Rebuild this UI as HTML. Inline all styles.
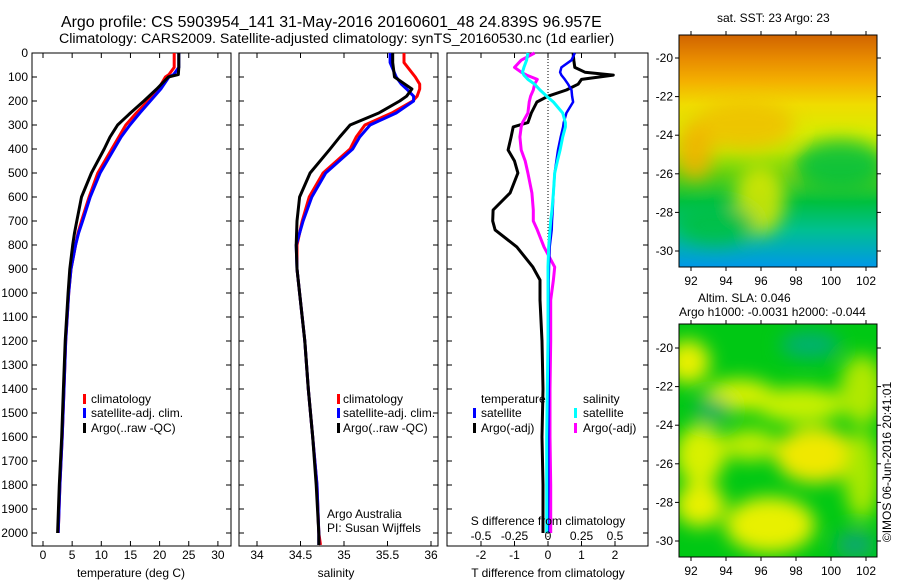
<!DOCTYPE html>
<html><head><meta charset="utf-8"><style>
html,body{margin:0;padding:0;background:#fff}
svg{display:block;font-family:"Liberation Sans",sans-serif}
text{fill:#000}
</style></head><body>
<svg id="chart" width="900" height="580" viewBox="0 0 900 580">
<defs>
<linearGradient id="sstGrad" x1="0" y1="0" x2="0" y2="1">
<stop offset="0" stop-color="#d06400"/><stop offset="0.1" stop-color="#e88a00"/><stop offset="0.2" stop-color="#f4b000"/><stop offset="0.3" stop-color="#f0dc00"/><stop offset="0.42" stop-color="#d8ec00"/><stop offset="0.5" stop-color="#b8e800"/><stop offset="0.6" stop-color="#60d010"/><stop offset="0.72" stop-color="#00c040"/><stop offset="0.84" stop-color="#00c090"/><stop offset="1" stop-color="#0098e8"/>
</linearGradient>
<filter id="blur" x="-20%" y="-20%" width="140%" height="140%"><feGaussianBlur stdDeviation="9"/></filter>
<clipPath id="m1clip"><rect x="679" y="35" width="198" height="232"/></clipPath>
<clipPath id="m2clip"><rect x="679" y="324" width="198" height="233"/></clipPath>
</defs>
<text x="61" y="27" font-size="15.9">Argo profile: CS 5903954_141 31-May-2016 20160601_48 24.839S 96.957E</text>
<text x="59" y="43" font-size="14.2">Climatology: CARS2009. Satellite-adjusted climatology: synTS_20160530.nc (1d earlier)</text>
<g id="p1"></g>
<g id="p2"></g>
<g id="p3"></g>
<g id="m1">
<g clip-path="url(#m1clip)">
<rect x="679" y="35" width="198" height="232" fill="url(#sstGrad)"/>
<g filter="url(#blur)" opacity="0.85">
<ellipse cx="745" cy="125" rx="50" ry="25" fill="#f0c000"/>
<ellipse cx="760" cy="200" rx="25" ry="35" fill="#e0e800"/>
<ellipse cx="840" cy="165" rx="45" ry="25" fill="#00c040"/>
<ellipse cx="695" cy="150" rx="18" ry="30" fill="#f4b000"/>
<ellipse cx="715" cy="225" rx="40" ry="20" fill="#00c040"/>
</g>
</g>
<rect x="679" y="35" width="198" height="232" fill="none" stroke="#000"/>
<text x="717" y="22" font-size="12">sat. SST: 23 Argo: 23</text>
</g>
<g id="m2">
<g clip-path="url(#m2clip)">
<rect x="679" y="324" width="198" height="233" fill="#00c814"/>
<g filter="url(#blur)">
<ellipse cx="688" cy="362" rx="22" ry="22" fill="#e8f000"/>
<ellipse cx="740" cy="395" rx="35" ry="16" fill="#d8f000"/>
<ellipse cx="800" cy="405" rx="45" ry="18" fill="#c8f000"/>
<ellipse cx="862" cy="390" rx="22" ry="35" fill="#b0e800"/>
<ellipse cx="700" cy="455" rx="25" ry="30" fill="#d8f000"/>
<ellipse cx="750" cy="445" rx="28" ry="16" fill="#c0ec00"/>
<ellipse cx="815" cy="455" rx="40" ry="28" fill="#f0e800"/>
<ellipse cx="700" cy="505" rx="25" ry="22" fill="#e8f000"/>
<ellipse cx="770" cy="525" rx="45" ry="28" fill="#e8f000"/>
<ellipse cx="862" cy="475" rx="18" ry="45" fill="#a8e800"/>
<ellipse cx="810" cy="345" rx="30" ry="14" fill="#00b070"/>
<ellipse cx="712" cy="410" rx="18" ry="12" fill="#10b060"/>
<ellipse cx="855" cy="545" rx="20" ry="14" fill="#10a870"/>
</g>
</g>
<rect x="679" y="324" width="198" height="233" fill="none" stroke="#000"/>
<text x="698" y="302" font-size="12">Altim. SLA: 0.046</text>
<text x="679" y="316" font-size="12">Argo h1000: -0.0031 h2000: -0.044</text>
</g>
<text transform="translate(891,462) rotate(-90)" font-size="12" text-anchor="middle">©IMOS 06-Jun-2016 20:41:01</text>
</svg>
<script>
const tDepth = [0,60,90,100,150,200,250,300,350,400,500,600,700,750,800,900,1000,1200,1400,1600,1800,2000];
const tempArgo = [23.3,23.3,23.2,21.5,19.5,17.3,15,12.8,11.5,10.5,8.3,6.6,5.8,5.4,5.1,4.6,4.3,3.8,3.5,3.2,2.8,2.5];
const tempClim = [22.5,22.5,21.6,21,19.8,18,16,14.2,13,11.8,9.4,7.9,6.6,6.0,5.6,4.8,4.4,3.9,3.6,3.3,2.9,2.6];
const tempSat  = [23.3,23.3,22.4,21.6,20.2,18.4,16.6,14.9,13.4,12.2,9.8,8.1,6.8,6.1,5.6,4.8,4.4,3.9,3.6,3.3,2.9,2.6];
const tempTicks = [0,5,10,15,20,25,30];
const sDepth = [0,40,100,130,150,180,200,250,300,350,400,500,600,700,800,900,1000,1100,1200,1400,1600,1800,2000,2050];
const salArgo = [35.56,35.56,35.58,35.7,35.78,35.72,35.64,35.4,35.07,34.95,34.84,34.61,34.49,34.46,34.45,34.46,34.49,34.52,34.55,34.59,34.64,34.68,34.71,34.71];
const salClim = [35.69,35.69,35.82,35.87,35.87,35.84,35.79,35.55,35.24,35.14,35.07,34.76,34.6,34.52,34.46,34.46,34.49,34.52,34.55,34.59,34.64,34.69,34.71,34.73];
const salSat  = [35.53,35.53,35.6,35.66,35.72,35.8,35.8,35.6,35.3,35.18,35.1,34.79,34.63,34.53,34.45,34.46,34.49,34.52,34.55,34.59,34.64,34.69,34.71,34.71];
const salTicks = [34,34.5,35,35.5,36];
const dDepth = [0,30,60,80,92,110,130,154,180,204,250,290,308,350,404,450,500,583,654,700,737,808,892,946,1029,1200,1400,1600,1800,2000];
const tDiffArgo = [0.75,0.77,0.8,1.1,1.95,1.0,0.9,0.55,0.0,-0.33,-0.5,-0.6,-1.04,-1.1,-1.19,-1.0,-0.9,-1.13,-1.64,-1.65,-1.58,-0.93,-0.45,-0.24,-0.24,-0.18,-0.15,-0.18,-0.15,-0.15];
const tDiffSat  = [0.8,0.7,0.4,0.36,0.4,0.5,0.6,0.7,0.72,0.75,0.55,0.47,0.45,0.38,0.3,0.25,0.2,0.16,0.14,0.12,0.11,0.05,0.03,0.02,0.02,0.02,0.02,0.01,0.01,0.0];
const sDiffSat  = [-0.15,-0.16,-0.18,-0.19,-0.18,-0.15,-0.1,-0.06,-0.01,0.04,0.11,0.13,0.13,0.11,0.09,0.07,0.05,0.04,0.03,0.02,0.015,0.005,0,0,0,0,-0.005,-0.01,-0.01,-0.01];
const sDiffArgo = [-0.1,-0.2,-0.25,-0.2,-0.16,-0.08,-0.1,-0.11,-0.13,-0.14,-0.15,-0.19,-0.2,-0.21,-0.2,-0.17,-0.15,-0.12,-0.11,-0.11,-0.08,-0.03,0.05,0.04,0.02,0.02,0.015,0.015,0.02,0.02];
const depthTicks = [0,100,200,300,400,500,600,700,800,900,1000,1100,1200,1300,1400,1500,1600,1700,1800,1900,2000];
const tDiffTicks = [-2,-1,0,1,2];
const sDiffTicks = [-0.5,-0.25,0,0.25,0.5];
const lonTicks = [92,94,96,98,100,102];
const latTicks = [-20,-22,-24,-26,-28,-30];

const NS='http://www.w3.org/2000/svg';
function mk(parent,tag,attrs){const e=document.createElementNS(NS,tag);for(const k in attrs)e.setAttribute(k,attrs[k]);parent.appendChild(e);return e;}
const yD = d => 53 + d*0.24;
const PB = 546;
function frame(g,x0,x1){
  const r=mk(g,'rect',{x:x0,y:53,width:x1-x0,height:PB-53,fill:'none',stroke:'#000','stroke-width':1});
  
  
}
function line(g,depths,vals,sx,color,w,name){
  const pts=depths.map((d,i)=>sx(vals[i]).toFixed(1)+','+yD(d).toFixed(1)).join(' ');
  const p=mk(g,'polyline',{points:pts,fill:'none',stroke:color,'stroke-width':w,'stroke-linejoin':'round'});
  
  
}
function xTicks(g,ticks,sx,labY){
  ticks.forEach(t=>{
    const x=sx(t);
    mk(g,'line',{x1:x,x2:x,y1:PB,y2:PB-5,stroke:'#000'});
    mk(g,'line',{x1:x,x2:x,y1:53,y2:58,stroke:'#000'});
    const tx=mk(g,'text',{x:x,y:labY,'font-size':12,'text-anchor':'middle'});
    tx.textContent=String(t);
    
    
  });
}
function yTicks(g,x0,x1,labels){
  depthTicks.forEach(d=>{
    const y=yD(d);
    mk(g,'line',{x1:x0,x2:x0+5,y1:y,y2:y,stroke:'#000'});
    mk(g,'line',{x1:x1,x2:x1-5,y1:y,y2:y,stroke:'#000'});
    if(labels){
      const t=mk(g,'text',{x:x0-4,y:y+4,'font-size':12,'text-anchor':'end'});
      t.textContent=d;
      
      
    }
  });
}
function txt(g,x,y,s,name,anchor){
  const t=mk(g,'text',{x:x,y:y,'font-size':12,'text-anchor':anchor||'start'});
  t.textContent=s;
  
  
}
function legMark(g,x,y,color,name){
  const r=mk(g,'rect',{x:x,y:y-9,width:3,height:10,fill:color});
  
  
}
const p1=document.getElementById('p1');
const sxT = v => 43 + v*5.83;
frame(p1,32,231); yTicks(p1,32,231,true); xTicks(p1,tempTicks,sxT,559);
line(p1,tDepth,tempClim,sxT,'#ff0000',3,'temp-climatology-line');
line(p1,tDepth,tempSat,sxT,'#0000ff',3,'temp-satellite-line');
line(p1,tDepth,tempArgo,sxT,'#000000',3,'temp-argo-line');
txt(p1,131,577,'temperature (deg C)','x-axis-title','middle');
legMark(p1,83,403,'#ff0000','legend-climatology'); txt(p1,91,403,'climatology','legend-text');
legMark(p1,83,417,'#0000ff','legend-satellite'); txt(p1,91,417,'satellite-adj. clim.','legend-text');
legMark(p1,83,432,'#000000','legend-argo'); txt(p1,91,432,'Argo(..raw -QC)','legend-text');
const p2=document.getElementById('p2');
const sxS = v => 257 + (v-34)*87;
frame(p2,239,438); yTicks(p2,239,438,false); xTicks(p2,salTicks,sxS,559);
line(p2,sDepth,salClim,sxS,'#ff0000',3,'sal-climatology-line');
line(p2,sDepth,salSat,sxS,'#0000ff',3,'sal-satellite-line');
line(p2,sDepth,salArgo,sxS,'#000000',3,'sal-argo-line');
txt(p2,336,577,'salinity','x-axis-title','middle');
legMark(p2,337,403,'#ff0000','legend-climatology'); txt(p2,343,403,'climatology','legend-text');
legMark(p2,337,417,'#0000ff','legend-satellite'); txt(p2,343,417,'satellite-adj. clim.','legend-text');
legMark(p2,337,432,'#000000','legend-argo'); txt(p2,343,432,'Argo(..raw -QC)','legend-text');
txt(p2,327,518,'Argo Australia','credit-text'); txt(p2,327,532,'PI: Susan Wijffels','credit-text');
const p3=document.getElementById('p3');
const sxD = v => 548 + v*33.5;
const sxSD = v => 548 + v*134;
frame(p3,447,648); yTicks(p3,447,648,false); xTicks(p3,tDiffTicks,sxD,559);
mk(p3,'line',{x1:548,x2:548,y1:53,y2:PB,stroke:'#000','stroke-dasharray':'1,2'});
line(p3,dDepth,tDiffArgo,sxD,'#000000',3,'tdiff-argo-line');
line(p3,dDepth,sDiffArgo,sxSD,'#ff00ff',3,'sdiff-argo-line');
line(p3,dDepth,tDiffSat,sxD,'#0000ff',2.5,'tdiff-satellite-line');
line(p3,dDepth,sDiffSat,sxSD,'#00ffff',3,'sdiff-satellite-line');
txt(p3,548,577,'T difference from climatology','x-axis-title','middle');
txt(p3,548,525,'S difference from climatology','s-axis-title','middle');
sDiffTicks.forEach(v=>txt(p3,sxSD(v),540,String(v),'s-tick-label','middle'));
txt(p3,481,403,'temperature','legend-title');
legMark(p3,473,417,'#0000ff','legend-t-satellite'); txt(p3,481,417,'satellite','legend-text');
legMark(p3,473,432,'#000000','legend-t-argo'); txt(p3,481,432,'Argo(-adj)','legend-text');
txt(p3,583,403,'salinity','legend-title');
legMark(p3,574,417,'#00ffff','legend-s-satellite'); txt(p3,583,417,'satellite','legend-text');
legMark(p3,574,432,'#ff00ff','legend-s-argo'); txt(p3,583,432,'Argo(-adj)','legend-text');
function mapAxes(gid,top,bot,latY20){
  const g=document.getElementById(gid);
  const sxL = v => 691 + (v-92)*17.5;
  const syL = v => latY20 + (-20-v)*19.3;
  lonTicks.forEach(v=>{
    const x=sxL(v);
    mk(g,'line',{x1:x,x2:x,y1:bot,y2:bot+4,stroke:'#000'});
    mk(g,'line',{x1:x,x2:x,y1:top,y2:top-4,stroke:'#000'});
    txt(g,x,bot+18,String(v),'lon-tick-label','middle');
  });
  latTicks.forEach(v=>{
    const y=syL(v);
    mk(g,'line',{x1:679,x2:675,y1:y,y2:y,stroke:'#000'});
    mk(g,'line',{x1:877,x2:881,y1:y,y2:y,stroke:'#000'});
    txt(g,673,y+4,String(v),'lat-tick-label','end');
  });
}
mapAxes('m1',35,267,58);
mapAxes('m2',324,557,348);
</script>
</body></html>
